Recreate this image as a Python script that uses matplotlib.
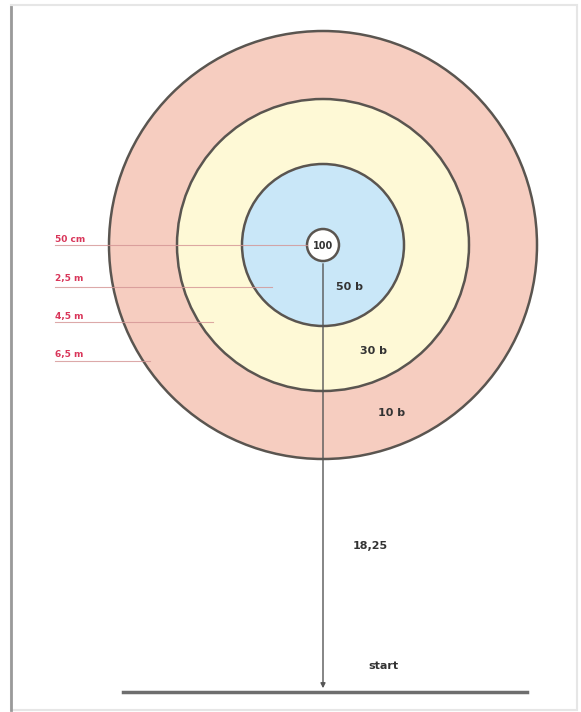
import matplotlib.pyplot as plt
from matplotlib.patches import Circle, Rectangle

plt.rcParams['font.family'] = ['DejaVu Sans']

# target geometry (pixel units)
center = (323, 245)
ring_radii = [214, 146, 81, 16]
ring_colors = ['#F6CDC0', '#FEF9D6', '#C9E7F8', '#FFFFFF']
ring_labels = ['10 b', '30 b', '50 b', '100']
ring_label_pos = [(392, 413), (373, 351), (350, 287), (323, 246)]

dist_labels = ['50 cm', '2,5 m', '4,5 m', '6,5 m']
dist_label_y = [240, 279, 316, 354]
dist_line_y = [245, 287, 322, 361]
dist_line_end = [307, 272, 213, 150]

start_y = 692
base_x = (123, 527)

fig = plt.figure(figsize=(5.81, 7.12), dpi=100)
ax = fig.add_axes([0, 0, 1, 1])
ax.set_xlim(0, 581)
ax.set_ylim(712, 0)
ax.axis('off')

# frame
ax.add_patch(Rectangle((11, 5), 566, 705, fill=False, edgecolor='#E6E6E6', linewidth=1.5))
ax.plot([11, 11], [7, 710], color='#9A9A9A', linewidth=2)

# rings
for r, c in zip(ring_radii, ring_colors):
    ax.add_patch(Circle(center, r, facecolor=c, edgecolor='#5A5550', linewidth=1.8, zorder=2))

# distance marker lines
for lab, ty, ly, x1 in zip(dist_labels, dist_label_y, dist_line_y, dist_line_end):
    ax.plot([55, x1], [ly, ly], color='#D49494', linewidth=0.8, alpha=0.8, zorder=3)
    ax.text(55, ty, lab, color='#D9365A', fontsize=6.5, fontweight='bold', va='center', ha='left', zorder=4)

# ring score labels
for lab, (x, y) in zip(ring_labels, ring_label_pos):
    fs = 7 if lab == '100' else 8
    ax.text(x, y, lab, color='#333333', fontsize=fs, fontweight='bold', ha='center', va='center', zorder=5)

# throw line from start to center
ax.annotate('', xy=(center[0], start_y - 1), xytext=(center[0], center[1] + ring_radii[-1]),
            arrowprops=dict(arrowstyle='-|>', color='#555555', lw=1, mutation_scale=7), zorder=4)
ax.plot(base_x, [start_y, start_y], color='#6E6E6E', linewidth=2.5)

ax.text(370, 546, '18,25', color='#333333', fontsize=8, fontweight='bold', ha='center', va='center')
ax.text(383, 666, 'start', color='#333333', fontsize=8, fontweight='bold', ha='center', va='center')

fig.savefig('out.png', dpi=100)
